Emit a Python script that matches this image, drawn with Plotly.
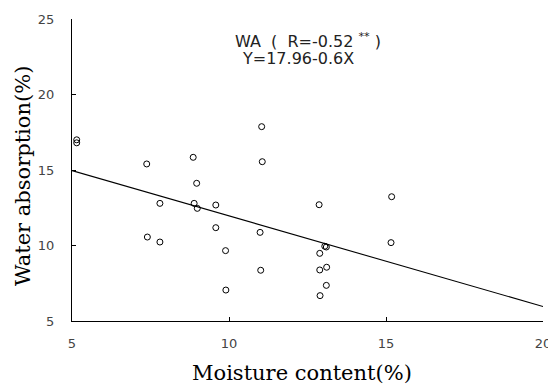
import plotly.graph_objects as go

# Data
moisture = [5.15, 5.15, 7.38, 8.86, 8.97, 11.04, 11.06, 15.18,
            7.80, 8.89, 8.99, 9.58, 9.58, 7.40, 7.80, 10.99,
            9.89, 11.01, 9.90, 12.87, 15.16, 13.05, 13.10,
            12.89, 12.89, 13.11, 13.10, 12.90]
water_abs = [17.0, 16.8, 15.4, 15.84, 14.12, 17.87, 15.55, 13.23,
             12.79, 12.79, 12.46, 12.68, 11.18, 10.56, 10.23, 10.87,
             9.66, 8.36, 7.05, 12.70, 10.19, 9.95, 9.90,
             9.48, 8.38, 8.56, 7.36, 6.68]

intercept = 17.96
slope = -0.6
line_x = [5, 20]
line_y = [intercept + slope * x for x in line_x]

x_ticks = [5, 10, 15, 20]
y_ticks = [5, 10, 15, 20, 25]

fig = go.Figure()
fig.add_trace(go.Scatter(x=line_x, y=line_y, mode="lines",
                         line=dict(color="black", width=1.1), showlegend=False))
fig.add_trace(go.Scatter(x=moisture, y=water_abs, mode="markers", cliponaxis=False,
                         marker=dict(symbol="circle-open", size=6, color="black",
                                     line=dict(width=1)),
                         showlegend=False))

ann_font = dict(family="DejaVu Sans", size=16, color="#222")
fig.add_annotation(x=12.5, y=23.6, xref="x", yref="y", showarrow=False,
                   text="WA  (  R=-0.52 <sup>**</sup> )", font=ann_font)
fig.add_annotation(x=12.21, y=22.4, xref="x", yref="y", showarrow=False,
                   text="Y=17.96-0.6X", font=ann_font)

title_font = dict(family="DejaVu Serif", size=21, color="black")
fig.add_annotation(x=0.488, y=-0.172, xref="paper", yref="paper", showarrow=False,
                   text="Moisture content(%)", font=title_font,
                   xanchor="center", yanchor="middle")
fig.add_annotation(x=-0.104, y=0.48, xref="paper", yref="paper", showarrow=False,
                   text="Water absorption(%)", font=title_font, textangle=-90,
                   xanchor="center", yanchor="middle")

axis_common = dict(showline=True, linecolor="black", linewidth=1,
                   ticks="inside", ticklen=4, tickcolor="black",
                   showgrid=False, zeroline=False, automargin=False,
                   tickfont=dict(family="DejaVu Sans", size=13, color="#444"))

fig.update_xaxes(range=[5, 20], tickvals=x_ticks, ticktext=[str(v) for v in x_ticks],
                 ticklabelstandoff=10, **axis_common)
fig.update_yaxes(range=[5, 25], tickvals=y_ticks, ticktext=[str(v) for v in y_ticks],
                 ticklabelstandoff=14, **axis_common)

# page body has an 8px default margin, so the figure is sized to fit the window
fig.update_layout(width=548, height=376, plot_bgcolor="white", paper_bgcolor="white",
                  margin=dict(l=64, r=13, t=11, b=63))

fig.write_html("out.html")
